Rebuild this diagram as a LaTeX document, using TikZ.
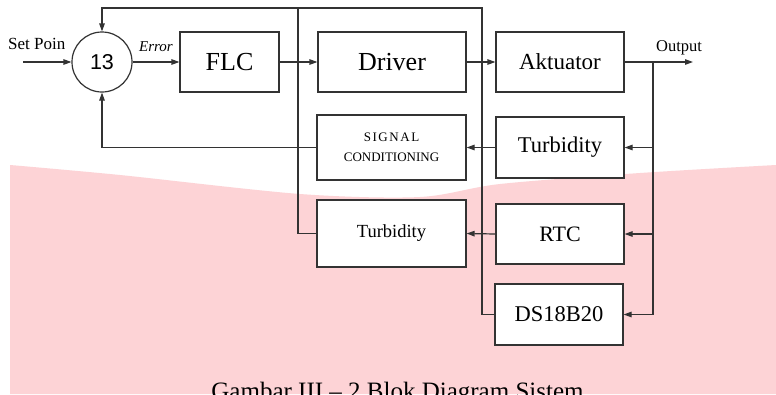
\documentclass[tikz,border=0pt]{standalone}
\usepackage{fontspec}
\setmainfont{Liberation Serif}
\newfontfamily\arialfont{Liberation Sans}
\usepackage{xcolor}
\usetikzlibrary{arrows.meta}
\definecolor{garis}{HTML}{333333}
\definecolor{latar}{HTML}{FDD3D6}
\newcommand{\ukuran}[1]{\fontsize{#1}{#1}\selectfont}

\begin{document}
\begin{tikzpicture}[x=1pt, y=-1pt, >={Triangle[length=8pt,width=5.5pt]},
	blok/.style={fill=white, draw=garis, line width=1.2pt, shape=rectangle, align=center, inner sep=0pt},
	garis/.style={draw=garis, line width=1.2pt}]
	\useasboundingbox (0,0) rectangle (776,394);
	\fill [white] (0,0) rectangle (776,394);
	\fill [latar] plot [smooth] coordinates {(10,165) (120,175) (300,194) (420,197) (500,184) (640,173) (776,165)} -- (776,394) -- (10,394) -- cycle;
	% blok utama
	\node [fill=white, draw=garis, line width=1.2pt, shape=circle, minimum size=60pt, inner sep=0pt] (0) at (102, 62) {\arialfont\ukuran{21.5}13};
	\node [blok, minimum width=99pt, minimum height=60pt] (1) at (229.5, 62) {\ukuran{26}FLC};
	\node [blok, minimum width=148pt, minimum height=60pt] (2) at (392, 62) {\ukuran{26}Driver};
	\node [blok, minimum width=128pt, minimum height=60pt] (3) at (560, 62) {\ukuran{23}Aktuator};
	\node [blok, minimum width=149pt, minimum height=65pt] (4) at (391.5, 147.5) {\ukuran{13}\addfontfeature{LetterSpace=12}SIGNAL\\[8pt]\ukuran{13}CONDITIONING};
	\node [blok, minimum width=128pt, minimum height=61pt] (5) at (560, 147.5) {\ukuran{22.5}Turbidity};
	\node [blok, minimum width=149pt, minimum height=67pt] (6) at (391.5, 233.5) {\ukuran{18.5}Turbidity};
	\node [blok, minimum width=128pt, minimum height=60pt] (7) at (560, 234) {\ukuran{22}RTC};
	\node [blok, minimum width=128pt, minimum height=61pt] (8) at (559, 314.5) {\ukuran{22.5}DS18B20};
	% label
	\node [anchor=west, inner sep=0pt] (9) at (8, 44) {\ukuran{17}Set Poin};
	\node [anchor=west, inner sep=0pt] (10) at (139, 47) {\ukuran{15}\itshape Error};
	\node [anchor=west, inner sep=0pt] (11) at (656, 47.5) {\ukuran{16.5}Output};
	\node [anchor=base, inner sep=0pt] (12) at (397.5, 399.5) {\ukuran{25}Gambar III -- 2 Blok Diagram Sistem};
	% titik bantu
	\coordinate (sp) at (23, 62);
	\coordinate (out) at (693, 62);
	\coordinate (cab) at (653, 62);
	\coordinate (atas1) at (298, 8);
	\coordinate (atas2) at (482, 8);
	% garis
	\draw [garis, ->] (sp) to (0.west);
	\draw [garis, ->] (0.east) to (1.west);
	\draw [garis, ->] (1.east) to (2.west);
	\draw [garis, ->] (2.east) to (3.west);
	\draw [garis, ->] (3.east) to (out);
	\draw [garis, ->] (cab) |- (5.east);
	\draw [garis, ->] (cab) |- (7.east);
	\draw [garis, ->] (cab) |- (8.east);
	\draw [garis, ->] (5.west) to (4.east);
	\draw [garis, ->] (7.west) to (6.east);
	\draw [garis, ->] (4.west) -| (0.south);
	\draw [garis, ->] (6.west) -| (atas1) -| (0.north);
	\draw [garis] (8.west) -| (atas2) to (atas1);
\end{tikzpicture}
\end{document}
